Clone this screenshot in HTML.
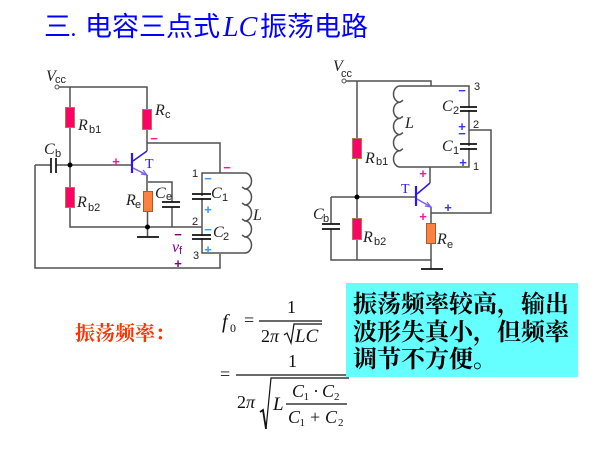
<!DOCTYPE html>
<html><head><meta charset="utf-8"><style>
html,body{margin:0;padding:0;background:#fff}
svg{display:block;position:absolute;left:0;top:0}
.s{font-family:"Liberation Serif",serif;font-style:italic;fill:#222}
.n{font-family:"Liberation Sans",sans-serif;fill:#222}
.m{font-family:"Liberation Sans",sans-serif;font-weight:bold;text-anchor:middle;font-size:13px}
.f{font-family:"Liberation Serif",serif;fill:#111}
.i{font-family:"Liberation Serif",serif;font-style:italic;fill:#111}
</style></head><body>
<svg width="612" height="456" viewBox="0 0 612 456" xmlns="http://www.w3.org/2000/svg">
<rect width="612" height="456" fill="#fff"/>
<text x="44" y="36" font-size="27" fill="#0000ff" font-family="'Liberation Sans','Noto Sans CJK SC',sans-serif">三<tspan font-family="'Liberation Serif',serif" font-style="italic" font-size="24">.</tspan></text>
<text x="85" y="36" font-size="27" fill="#0000ff" font-family="'Liberation Sans','Noto Sans CJK SC',sans-serif">电容三点式</text>
<text x="223" y="36" font-size="28" fill="#0000ff" font-style="italic" font-family="'Liberation Serif',serif">LC</text>
<text x="260" y="36" font-size="27" fill="#0000ff" font-family="'Liberation Sans','Noto Sans CJK SC',sans-serif">振荡电路</text>

<!-- left circuit wires -->
<g fill="none" stroke="#505050" stroke-width="1.500">
<path d="M59 87H147V109M147 129V151"/>
<path d="M70 87V107M70 128V187M70 207V227H202"/>
<path d="M35 165H51M56 165H132"/>
<path d="M35 165V268H220V254"/>
<path d="M147 143H220V173"/>
<path d="M147 175V191M147.500 212V237"/>
<path d="M148 182H172V202M172 207V227"/>
<path d="M202 173H245a6.500 8 0 0 1 0 16l-3 -2 3 2a6.500 8 0 0 1 0 16l-3 -2 3 2a6.500 8 0 0 1 0 16l-3 -2 3 2a6.500 8 0 0 1 0 16l-3 -2 3 2a6.500 8 0 0 1 0 16H202Z"/>
</g>
<rect x="194" y="196" width="16" height="2" fill="#fff"/>
<rect x="194" y="236" width="16" height="2" fill="#fff"/>
<circle cx="57" cy="87" r="2" fill="#fff" stroke="#555"/>
<g fill="#ff0066" stroke="#a87a50"><rect x="65.500" y="107.500" width="9" height="20"/><rect x="142.500" y="109.500" width="9" height="20"/><rect x="65.500" y="187.500" width="9" height="20"/></g>
<rect x="143.500" y="191.500" width="9" height="20" fill="#ff8040" stroke="#a0602a"/>
<g stroke="#111" stroke-width="1.700" fill="none">
<path d="M51 158V173M56 158V173"/>
<path d="M192 194H211M192 199H211M192 235H211M192 239H211"/>
<path d="M162 202H180M162 207H180"/>
<path d="M137 237H159"/>
</g>
<circle cx="70" cy="165" r="2.500" fill="#000"/><circle cx="147.500" cy="227" r="2.500" fill="#000"/>
<g stroke="#2a18f0" fill="none">
<path d="M132 153V173" stroke-width="2.200"/>
<path d="M133 161L147 151" stroke-width="1.500"/>
<path d="M133 168L147 175" stroke="#7a60f0" stroke-width="1.500"/>
<path d="M141 174L147 175L143 170" stroke="#7a60f0" stroke-width="1.200"/>
</g>
<text x="145" y="168" font-size="14" fill="#2a18f0" font-family="'Liberation Serif',serif">T</text>

<g font-size="16"><text class="s" x="46" y="81">V</text><text class="s" x="78" y="130">R</text><text class="s" x="155" y="115">R</text><text class="s" x="44" y="154">C</text><text class="s" x="77" y="207">R</text><text class="s" x="126" y="205">R</text><text class="s" x="155" y="198">C</text><text class="s" x="211" y="198">C</text><text class="s" x="213" y="237">C</text><text class="s" x="253" y="220">L</text></g>
<g font-size="11"><text class="n" x="55" y="83">cc</text><text class="n" x="89" y="133">b1</text><text class="n" x="165" y="118">c</text><text class="n" x="55" y="157">b</text><text class="n" x="88" y="211">b2</text><text class="n" x="135" y="208">e</text><text class="n" x="166" y="200">e</text><text class="n" x="222" y="201">1</text><text class="n" x="223" y="240">2</text><text class="n" x="192" y="177">1</text><text class="n" x="192" y="225">2</text><text class="n" x="193" y="259">3</text></g>
<text class="m" x="116" y="166" fill="#ff1493">+</text>
<text class="m" x="154" y="143" fill="#ff1493">−</text>
<text class="m" x="227" y="172" fill="#ff1493">−</text>
<g fill="#3399ff"><text class="m" x="208" y="183">−</text><text class="m" x="208" y="214">+</text><text class="m" x="208" y="234">−</text><text class="m" x="208" y="254">+</text></g>
<g fill="#800080"><text class="m" x="178" y="239">−</text><text class="m" x="178" y="268">+</text></g>
<text x="172" y="252" font-size="16" font-style="italic" fill="#800080" font-family="'Liberation Serif',serif">v</text>
<text x="179" y="254" font-size="11" fill="#800080" font-family="'Liberation Sans',sans-serif">f</text>

<!-- right circuit wires -->
<g fill="none" stroke="#505050" stroke-width="1.500">
<path d="M346 81H431V86"/>
<path d="M357 81V138M357 159V218M357 240V260"/>
<path d="M469 86H400a6.500 8.100 0 0 0 0 16.200l3 -2 -3 2a6.500 8.100 0 0 0 0 16.200l3 -2 -3 2a6.500 8.100 0 0 0 0 16.200l3 -2 -3 2a6.500 8.100 0 0 0 0 16.200l3 -2 -3 2a6.500 8.100 0 0 0 0 16.200H469Z"/>
<path d="M469 130H491V213H431"/>
<path d="M331 197H416"/>
<path d="M331 197V224M331 229V260H431V269"/>
<path d="M431 207V223M431 244V260"/>
<path d="M430 167V183"/>
</g>
<rect x="462" y="108" width="14" height="2" fill="#fff"/>
<rect x="462" y="146" width="14" height="2" fill="#fff"/>
<rect x="324" y="226" width="14" height="2" fill="#fff"/>
<circle cx="344" cy="81" r="2" fill="#fff" stroke="#555"/>
<g fill="#ff0066" stroke="#a87a50"><rect x="352.500" y="138.500" width="9" height="20"/><rect x="352.500" y="218.500" width="9" height="21"/></g>
<rect x="426.500" y="223.500" width="9" height="20" fill="#ff8040" stroke="#a0602a"/>
<g stroke="#111" stroke-width="1.700" fill="none">
<path d="M460 107H477M460 111H477M460 144H477M460 149H477"/>
<path d="M322 224H340M322 229H340"/>
<path d="M421 269H443"/>
</g>
<circle cx="357" cy="197" r="2.500" fill="#000"/>
<g stroke="#2a18f0" fill="none">
<path d="M416 186V206" stroke-width="2.200"/>
<path d="M417 194L430 183" stroke-width="1.500"/>
<path d="M417 199L431 207" stroke="#7a60f0" stroke-width="1.500"/>
<path d="M425 206L431 207L427 202" stroke="#7a60f0" stroke-width="1.200"/>
</g>
<text x="401" y="193" font-size="14" fill="#2a18f0" font-family="'Liberation Serif',serif">T</text>
<g font-size="16"><text class="s" x="333" y="71">V</text><text class="s" x="442" y="111">C</text><text class="s" x="442" y="151">C</text><text class="s" x="405" y="128">L</text><text class="s" x="365" y="163">R</text><text class="s" x="313" y="219">C</text><text class="s" x="363" y="242">R</text><text class="s" x="437" y="244">R</text></g>
<g font-size="11"><text class="n" x="341" y="77">cc</text><text class="n" x="474" y="90">3</text><text class="n" x="473" y="128">2</text><text class="n" x="473" y="170">1</text><text class="n" x="453" y="114">2</text><text class="n" x="453" y="154">1</text><text class="n" x="376" y="165">b1</text><text class="n" x="323" y="222">b</text><text class="n" x="374" y="245">b2</text><text class="n" x="447" y="248">e</text></g>
<g fill="#3333ff"><text class="m" x="462" y="95">−</text><text class="m" x="462" y="131">+</text><text class="m" x="462" y="138">−</text><text class="m" x="463" y="167">+</text><text class="m" x="448" y="212">+</text></g>
<g fill="#ff1493"><text class="m" x="423" y="178">+</text><text class="m" x="423" y="221">+</text></g>

<!-- formula -->
<text x="75" y="340" font-size="20" font-weight="bold" fill="#ff3300" font-family="'Liberation Serif','Noto Serif CJK SC',serif">振荡频率：</text>
<text class="i" x="222" y="328" font-size="20">f</text><text class="f" x="230" y="332" font-size="12">0</text>
<text class="f" x="244" y="326" font-size="18">=</text>
<path d="M259 321H322" stroke="#111" stroke-width="1.200"/>
<text class="f" x="287" y="313" font-size="18">1</text>
<text class="f" x="261" y="342" font-size="18">2<tspan font-style="italic">π</tspan></text>
<path d="M284 335L287 333L291 343L294 324H322" fill="none" stroke="#111" stroke-width="1.200"/>
<text class="i" x="295" y="342" font-size="19">LC</text>
<text class="f" x="220" y="380" font-size="18">=</text>
<path d="M236 375H347" stroke="#111" stroke-width="1.200"/>
<text class="f" x="288" y="367" font-size="18">1</text>
<text class="f" x="237" y="408" font-size="18">2<tspan font-style="italic">π</tspan></text>
<path d="M260 412L263 410L266 429" fill="none" stroke="#111" stroke-width="1.800"/>
<path d="M266 429L271 378H349" fill="none" stroke="#111" stroke-width="1.200"/>
<text class="i" x="273" y="410" font-size="19">L</text>
<path d="M286 404H347" stroke="#111" stroke-width="1.200"/>
<text x="292" y="397" font-size="18" class="i">C</text><text class="f" x="303.500" y="400" font-size="11">1</text><text class="f" x="313" y="397" font-size="18">·</text><text x="322" y="397" font-size="18" class="i">C</text><text class="f" x="334" y="400" font-size="11">2</text>
<text x="288" y="423" font-size="18" class="i">C</text><text class="f" x="299.500" y="426" font-size="11">1</text><text class="f" x="310" y="423" font-size="18">+</text><text x="325" y="423" font-size="18" class="i">C</text><text class="f" x="338" y="426" font-size="11">2</text>

<!-- cyan box -->
<rect x="346" y="283" width="232" height="94" fill="#66ffff"/>
<g font-size="24" fill="#000" font-weight="700" font-family="'Liberation Serif','Noto Serif CJK SC',serif">
<text x="353" y="312">振荡频率较高，输出</text>
<text x="353" y="340">波形失真小，但频率</text>
<text x="353" y="367">调节不方便。</text>
</g>
</svg>
</body></html>
